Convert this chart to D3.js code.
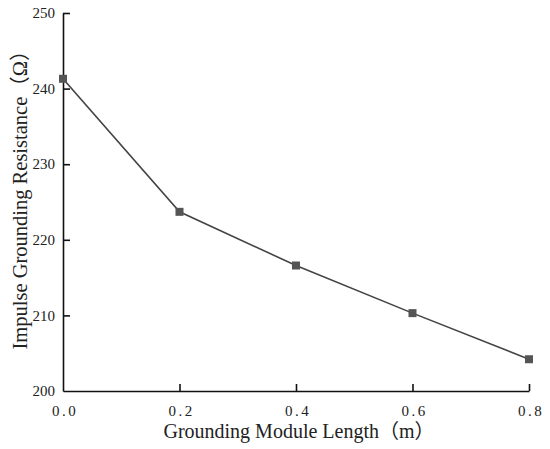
<!DOCTYPE html>
<html>
<head>
  <meta charset="utf-8">
  <script src="https://d3js.org/d3.v7.min.js"></script>
  <style>
    body { margin: 0; background: #fff; }
    text { font-family: "Liberation Serif", "Noto Sans CJK SC", serif; fill: #222; }
  </style>
</head>
<body>
<div id="chart"></div>
<script>

  var lengths = [0, 0.2, 0.4, 0.6, 0.8];
  var resistance = [241.3, 223.7, 216.6, 210.3, 204.2];
  var xTicks = [0, 0.2, 0.4, 0.6, 0.8];
  var yTicks = [200, 210, 220, 230, 240, 250];

  var width = 550, height = 449;
  var plotLeft = 63, plotRight = 529, plotTop = 13, plotBottom = 391;

  var svg = d3.select('#chart').append('svg')
    .attr('width', width)
    .attr('height', height);

  var x = d3.scaleLinear().domain([0, 0.8]).range([plotLeft, plotRight]);
  var y = d3.scaleLinear().domain([200, 250]).range([plotBottom, plotTop]);

  // x axis, ticks point up into the plot
  var xAxis = svg.append('g')
    .attr('transform', 'translate(0,' + plotBottom + ')')
    .call(d3.axisTop(x).tickValues(xTicks).tickSize(7).tickSizeOuter(0).tickFormat(function(){ return ''; }));

  xAxis.selectAll('.tick text').remove();
  xAxis.selectAll('.tick').filter(function(d){ return d === 0; }).select('line').remove();

  svg.selectAll('.xlab')
    .data(xTicks)
    .enter().append('text')
    .attr('class', 'xlab')
    .attr('x', function(d){ return x(d) + 2; })
    .attr('y', plotBottom + 25)
    .attr('text-anchor', 'middle')
    .style('font-size', '15px')
    .style('letter-spacing', '2.5px')
    .text(function(d){ return d3.format('.1f')(d); });

  // y axis, ticks point right into the plot
  var yAxis = svg.append('g')
    .attr('transform', 'translate(' + plotLeft + ',0)')
    .call(d3.axisRight(y).tickValues(yTicks).tickSize(7).tickSizeOuter(0).tickFormat(function(){ return ''; }));

  yAxis.selectAll('.tick text').remove();
  yAxis.selectAll('.tick').filter(function(d){ return d === 200; }).select('line').remove();

  svg.selectAll('.ylab')
    .data(yTicks)
    .enter().append('text')
    .attr('class', 'ylab')
    .attr('x', plotLeft - 8)
    .attr('y', function(d){ return y(d); })
    .attr('dy', '0.35em')
    .attr('text-anchor', 'end')
    .style('font-size', '15px')
    .text(function(d){ return d; });

  svg.selectAll('.domain, .tick line')
    .attr('stroke', '#111')
    .attr('stroke-width', 1.6);

  // data line
  var line = d3.line()
    .x(function(d, i){ return x(lengths[i]); })
    .y(function(d){ return y(d); });

  svg.append('path')
    .datum(resistance)
    .attr('d', line)
    .attr('fill', 'none')
    .attr('stroke', '#444')
    .attr('stroke-width', 1.6);

  var ms = 8;
  svg.selectAll('.pt')
    .data(resistance)
    .enter().append('rect')
    .attr('class', 'pt')
    .attr('x', function(d, i){ return x(lengths[i]) - ms / 2; })
    .attr('y', function(d){ return y(d) - ms / 2; })
    .attr('width', ms)
    .attr('height', ms)
    .attr('fill', '#555');

  // axis titles
  svg.append('text')
    .attr('x', 299)
    .attr('y', 438)
    .attr('text-anchor', 'middle')
    .style('font-size', '20px')
    .text('Grounding Module Length（m）');

  svg.append('text')
    .attr('transform', 'translate(27,' + 195 + ') rotate(-90)')
    .attr('text-anchor', 'middle')
    .style('font-size', '20.5px')
    .text('Impulse Grounding Resistance（Ω）');

</script>
</body>
</html>
